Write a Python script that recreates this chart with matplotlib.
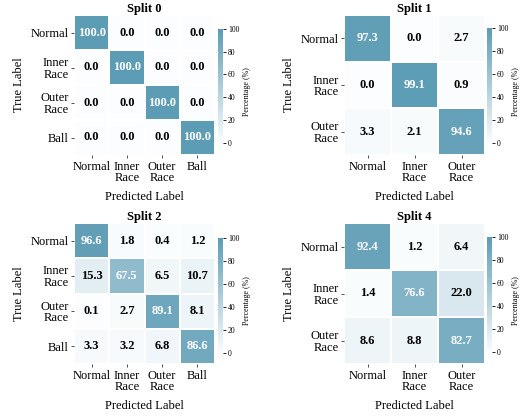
import numpy as np
import matplotlib
matplotlib.use('Agg')
import matplotlib.pyplot as plt
from matplotlib.colors import LinearSegmentedColormap, Normalize
from matplotlib.cm import ScalarMappable

plt.rcParams['font.family'] = ['Liberation Serif', 'DejaVu Serif']

# ── data ──────────────────────────────────────────────────────────────────────
LABELS_4 = ["Normal", "Inner\nRace", "Outer\nRace", "Ball"]
LABELS_3 = ["Normal", "Inner\nRace", "Outer\nRace"]

SPLIT0 = [[100.0, 0.0, 0.0, 0.0],
          [0.0, 100.0, 0.0, 0.0],
          [0.0, 0.0, 100.0, 0.0],
          [0.0, 0.0, 0.0, 100.0]]
SPLIT1 = [[97.3, 0.0, 2.7],
          [0.0, 99.1, 0.9],
          [3.3, 2.1, 94.6]]
SPLIT2 = [[96.6, 1.8, 0.4, 1.2],
          [15.3, 67.5, 6.5, 10.7],
          [0.1, 2.7, 89.1, 8.1],
          [3.3, 3.2, 6.8, 86.6]]
SPLIT4 = [[92.4, 1.2, 6.4],
          [1.4, 76.6, 22.0],
          [8.6, 8.8, 82.7]]

TITLES = ["Split 0", "Split 1", "Split 2", "Split 4"]
MATS = [SPLIT0, SPLIT1, SPLIT2, SPLIT4]
TICKS = [LABELS_4, LABELS_3, LABELS_4, LABELS_3]

# ── figure / layout in pixels ─────────────────────────────────────────────────
W, H = 529, 417
fig = plt.figure(figsize=(W / 100, H / 100), dpi=100, facecolor='white')

def px(x0, y0, x1, y1):
    return [x0 / W, 1 - y1 / H, (x1 - x0) / W, (y1 - y0) / H]

HEAT = [(74, 15, 215, 155), (344, 15, 485, 155),
        (74, 223, 215, 364), (344, 223, 485, 364)]
CBAR = [(218, 29, 223, 154), (487, 28, 492, 155),
        (218, 238, 223, 364), (487, 237, 492, 364)]

FS = 9
VMIN, VMAX = -10, 100
cmap = LinearSegmentedColormap.from_list(
    "teal", [(0, "#ffffff"), (-VMIN / (VMAX - VMIN), "#fbfdfe"), (1, "#5d9cb5")])
norm = Normalize(VMIN, VMAX)

for title, mat, labels, hb, cb in zip(TITLES, MATS, TICKS, HEAT, CBAR):
    m = np.array(mat)
    n = m.shape[0]
    ax = fig.add_axes(px(*hb))
    ax.pcolormesh(np.arange(n + 1), np.arange(n + 1), m, cmap=cmap, norm=norm,
                  edgecolors='white', linewidth=1.2)
    ax.set_xlim(0, n)
    ax.set_ylim(n, 0)
    for i in range(n):
        for j in range(n):
            v = m[i, j]
            ax.text(j + 0.5, i + 0.5, f"{v:.1f}", ha='center', va='center',
                    fontsize=FS, fontweight='bold',
                    color='white' if v > 50 else 'black')
    ax.set_xticks(np.arange(n) + 0.5)
    ax.set_yticks(np.arange(n) + 0.5)
    ax.set_xticklabels(labels, fontsize=FS, linespacing=0.95)
    ax.set_yticklabels(labels, fontsize=FS, linespacing=0.95, ha='right')
    ax.tick_params(length=2, width=0.6, pad=2, color='#333333')
    for s in ax.spines.values():
        s.set_visible(False)
    ax.set_title(title, fontsize=FS, fontweight='bold', pad=2)
    ax.set_xlabel("Predicted Label", fontsize=FS, labelpad=5)
    ax.set_ylabel("True Label", fontsize=FS, labelpad=4)

    cax = fig.add_axes(px(*cb))
    cbar = fig.colorbar(ScalarMappable(norm=norm, cmap=cmap), cax=cax)
    cbar.outline.set_visible(False)
    cbar.set_ticks([0, 20, 40, 60, 80, 100])
    cbar.ax.tick_params(labelsize=5.5, length=2, width=0.6, pad=1.5)
    cbar.set_label("Percentage (%)", fontsize=5.8, labelpad=3)

fig.savefig('out.png', dpi=100, facecolor='white')
